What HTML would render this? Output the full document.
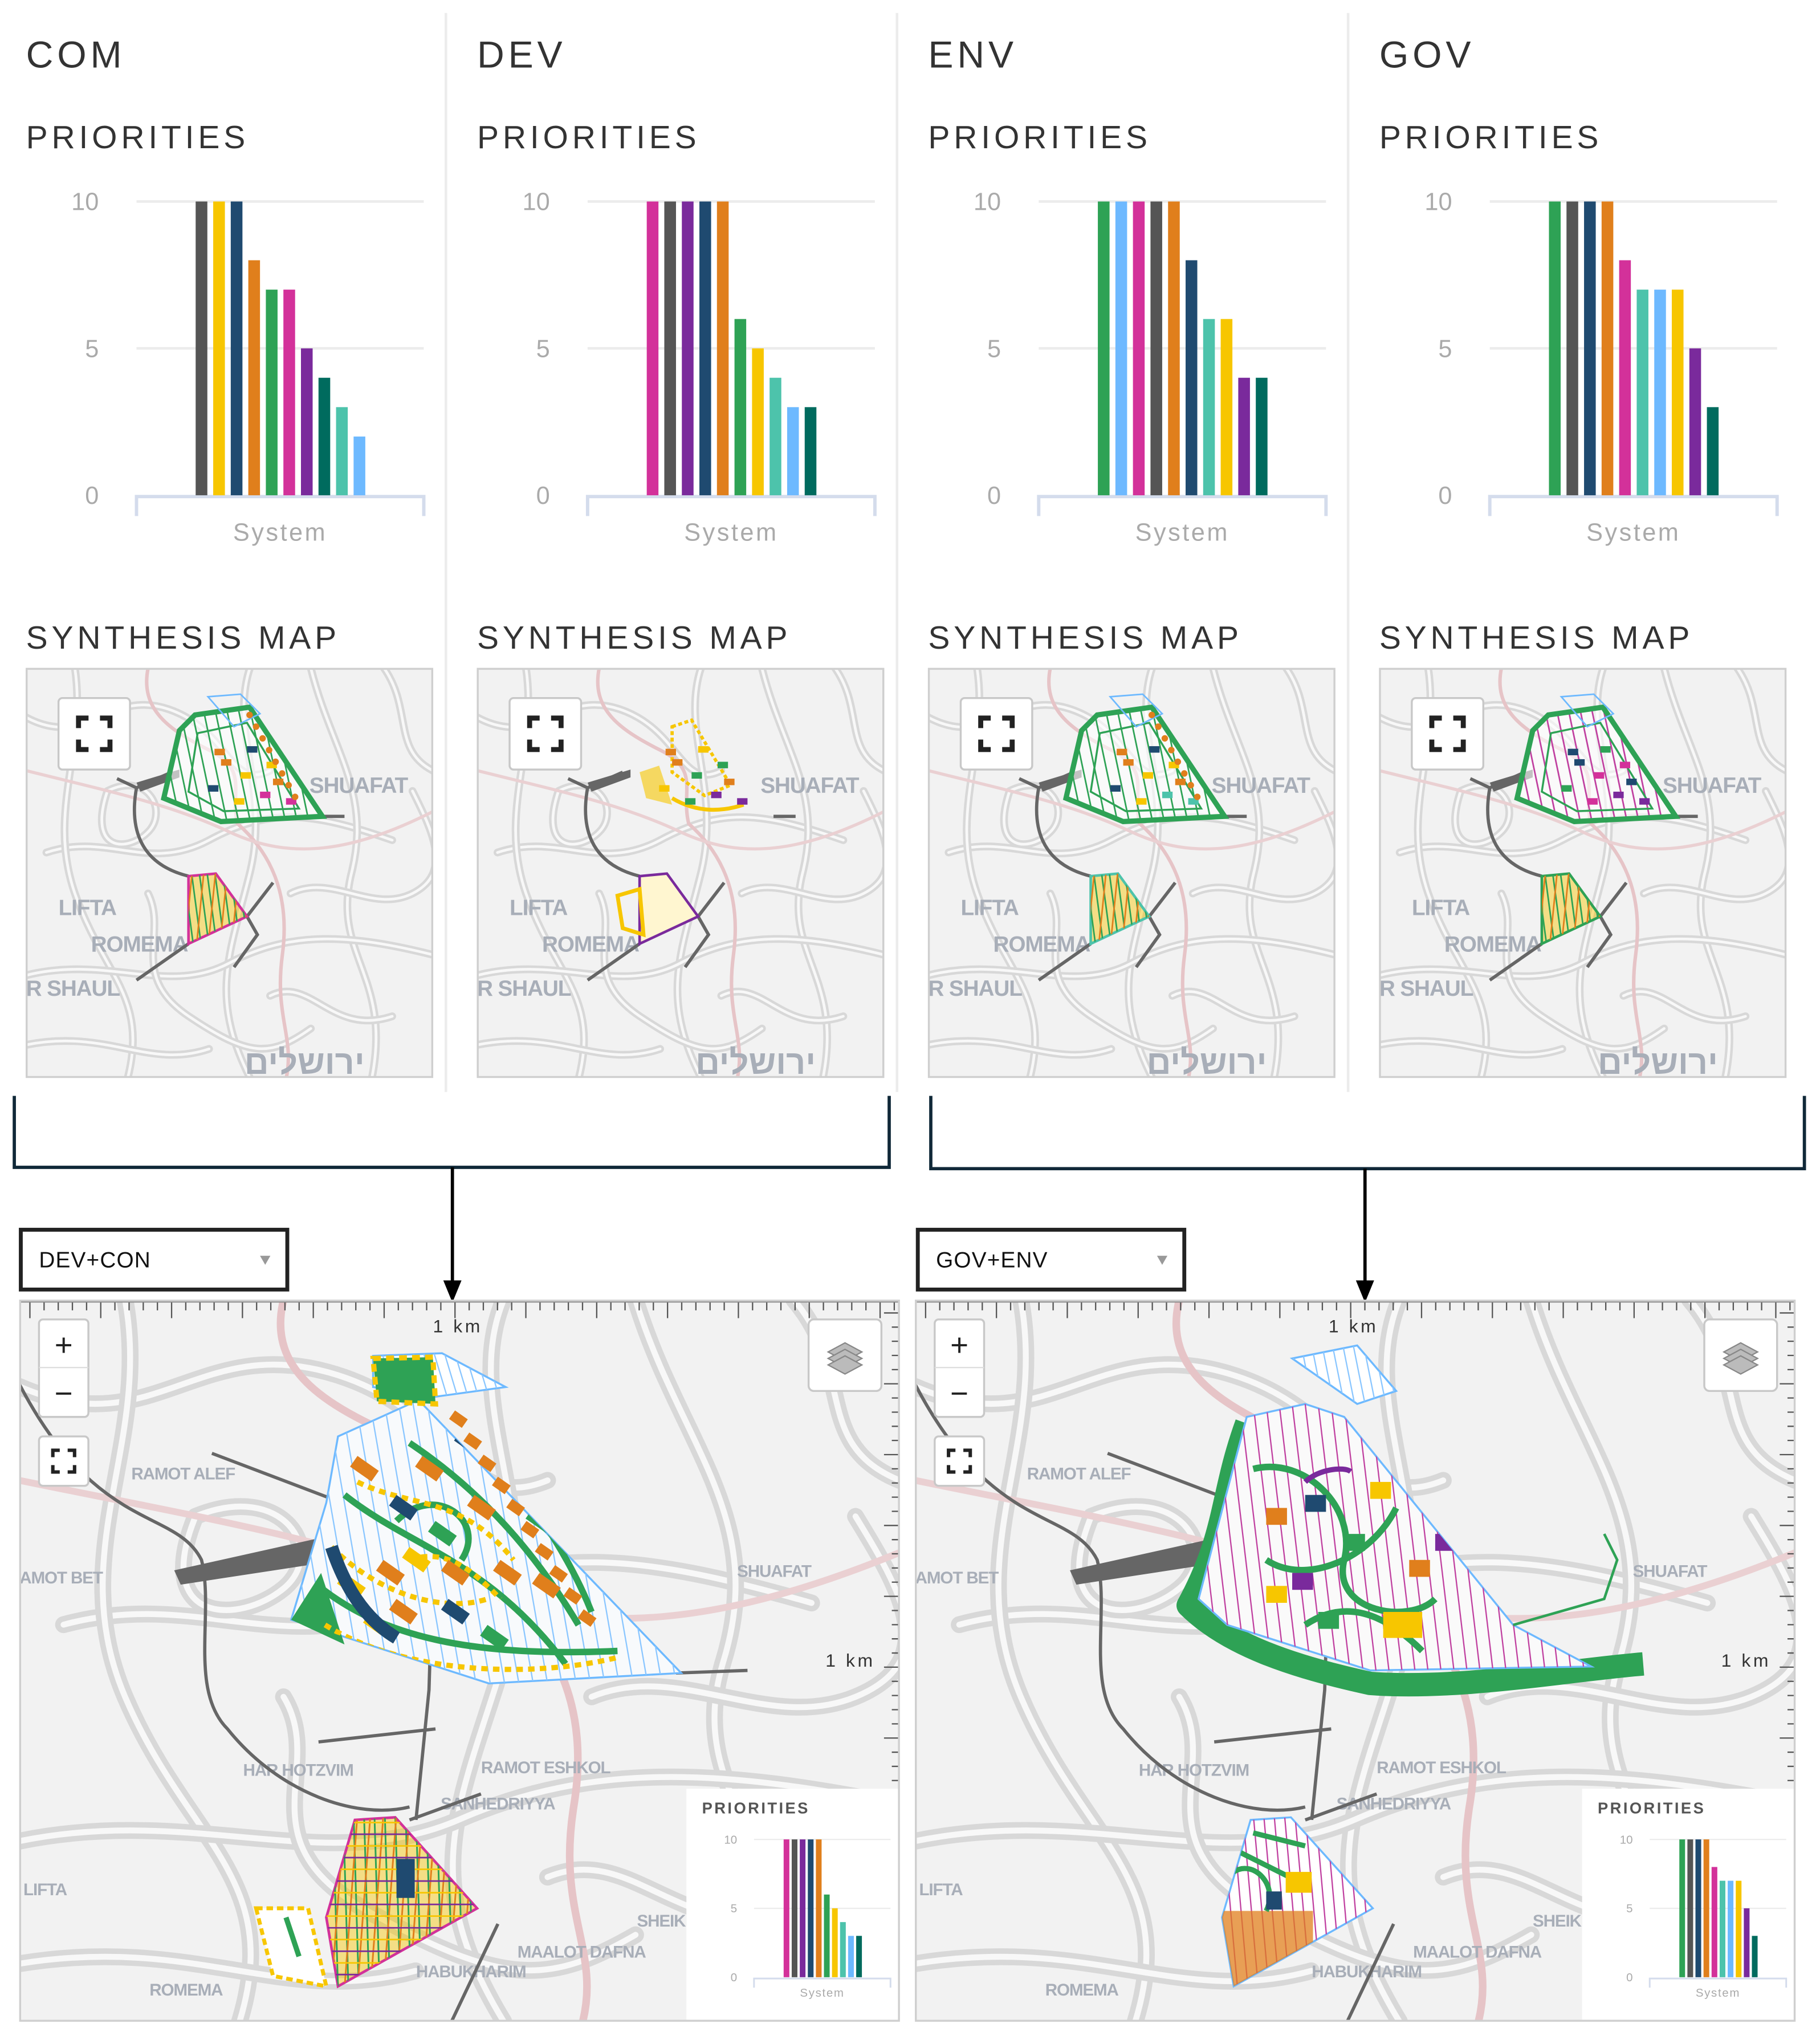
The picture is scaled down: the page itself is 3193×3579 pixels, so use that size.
<!DOCTYPE html>
<html><head><meta charset="utf-8">
<style>
html,body{margin:0;padding:0;background:#fff;}
svg{display:block;font-family:"Liberation Sans","DejaVu Sans","Noto Sans CJK JP",sans-serif;}
</style></head>
<body>
<svg id="root" xmlns="http://www.w3.org/2000/svg" width="3193" height="3579" viewBox="0 0 1400 1569.3" preserveAspectRatio="none">
<rect x="0" y="0" width="1400" height="1570" fill="#fff"/>
</svg>
<script>
// ---- chart data ----
var panelNames = ["COM","DEV","ENV","GOV"];
var comValues = [10,10,10,8,7,7,5,4,3,2];
var comColors = ["#555555","#f7c600","#1f4a70","#e07f1c","#2ea255","#d3319a","#7a2a9c","#006b5e","#4dc3ab","#6db9ff"];
var devValues = [10,10,10,10,10,6,5,4,3,3];
var devColors = ["#d3319a","#555555","#7a2a9c","#1f4a70","#e07f1c","#2ea255","#f7c600","#4dc3ab","#6db9ff","#006b5e"];
var envValues = [10,10,10,10,10,8,6,6,4,4];
var envColors = ["#2ea255","#6db9ff","#d3319a","#555555","#e07f1c","#1f4a70","#4dc3ab","#f7c600","#7a2a9c","#006b5e"];
var govValues = [10,10,10,10,8,7,7,7,5,3];
var govColors = ["#2ea255","#555555","#1f4a70","#e07f1c","#d3319a","#4dc3ab","#6db9ff","#f7c600","#7a2a9c","#006b5e"];
var tickValues = [0,5,10];
var tickLabels = ["0","5","10"];
var categoryLabel = "System";

var NS="http://www.w3.org/2000/svg";
var root=document.getElementById('root');
var uid=0;
function mk(tag,attrs,parent){var e=document.createElementNS(NS,tag);for(var k in attrs)e.setAttribute(k,attrs[k]);(parent||root).appendChild(e);return e;}
function txt(s,attrs,parent){var e=mk('text',attrs,parent);e.textContent=s;return e;}

function drawChart(parent,vals,cols,o){
  var y=function(v){return o.y0+(o.y10-o.y0)*v/10;};
  var g=mk('g',{},parent);
  
  
  for(var i=0;i<tickValues.length;i++){
    if(tickValues[i]>0){var gl=mk('line',{x1:o.gx0,x2:o.gx1,y1:y(tickValues[i]),y2:y(tickValues[i]),stroke:'#ececec','stroke-width':o.gw},g);
    
    }
    var t=txt(tickLabels[i],{x:o.lx,y:y(tickValues[i])+o.fs*0.35,'text-anchor':'end','font-size':o.fs,fill:'#aaa'},g);
    
    
  }
  var ax=mk('path',{d:'M'+o.gx0+' '+(o.y0+o.ad)+'V'+(o.y0+1)+'H'+o.gx1+'V'+(o.y0+o.ad),fill:'none',stroke:'#d4dcec','stroke-width':o.gw*1.3},g);
  
  
  for(var j=0;j<vals.length;j++){
    var cx=o.bx0+j*o.step;
    var r=mk('rect',{x:cx-o.bw/2,y:y(vals[j]),width:o.bw,height:o.y0-y(vals[j]),fill:cols[j]},g);
    
    
  }
  var c=txt(categoryLabel,{x:(o.gx0+o.gx1)/2,y:o.y0+o.cy,'text-anchor':'middle','font-size':o.fs,fill:'#aaa','letter-spacing':o.fs*0.08},g);
  
  
}

// ---- map drawing ----
var roadsN=[
 "M0.0 0.12 C0.15 0.2 0.2 0.05 0.35 0.1 S0.5 0.3 0.6 0.25",
 "M0.05 0.45 C0.2 0.4 0.3 0.5 0.45 0.42 S0.7 0.35 0.9 0.42",
 "M0.12 0.0 C0.15 0.2 0.05 0.35 0.12 0.55 S0.3 0.8 0.25 1.0",
 "M0.55 0.0 C0.5 0.15 0.6 0.3 0.55 0.5 S0.45 0.8 0.55 1.0",
 "M0.7 0.0 C0.75 0.2 0.85 0.3 0.8 0.5 S0.9 0.75 0.85 1.0",
 "M0.0 0.75 C0.2 0.7 0.35 0.8 0.5 0.72 S0.8 0.65 1.0 0.7",
 "M0.3 0.55 C0.35 0.65 0.25 0.75 0.4 0.85 S0.6 0.95 0.7 0.88",
 "M0.65 0.55 C0.75 0.5 0.85 0.6 0.95 0.55 S1.0 0.4 0.95 0.3",
 "M0.88 0.0 C0.95 0.1 0.9 0.2 1.0 0.25",
 "M0.2 0.3 C0.3 0.25 0.35 0.35 0.3 0.4 S0.15 0.45 0.2 0.3",
 "M0.0 0.92 C0.2 0.88 0.3 0.98 0.45 0.93",
 "M0.6 0.8 C0.7 0.75 0.75 0.9 0.9 0.85"
];
var pinkN="M0.3 0.0 C0.28 0.1 0.35 0.15 0.45 0.2 S0.5 0.3 0.52 0.38 C0.6 0.45 0.65 0.55 0.63 0.7 S0.66 0.9 0.64 1.0";
var pink2N="M0.0 0.25 C0.2 0.3 0.35 0.33 0.5 0.4 S0.8 0.45 1.0 0.35";
function scaleD(d,w,h){var i=0;return d.replace(/-?\d*\.?\d+/g,function(n){var v=parseFloat(n);var r=(i%2==0)?v*w:v*h;i++;return r.toFixed(1);});}

function mapBase(x,y,w,h,name,rw){
  var g=mk('g',{transform:'translate('+x+','+y+')'});
  
  
  var cid='clip'+name;
  var cp=mk('clipPath',{id:cid},g);mk('rect',{x:0,y:0,width:w,height:h},cp);
  var inner=mk('g',{'clip-path':'url(#'+cid+')'},g);
  mk('rect',{x:0,y:0,width:w,height:h,fill:'#f2f2f2'},inner);
  for(var i=0;i<roadsN.length;i++){
    mk('path',{d:scaleD(roadsN[i],w,h),fill:'none',stroke:'#d8d8d8','stroke-width':rw,'stroke-linecap':'round'},inner);
    mk('path',{d:scaleD(roadsN[i],w,h),fill:'none',stroke:'#f8f8f8','stroke-width':rw*0.35,'stroke-linecap':'round'},inner);
  }
  mk('path',{d:scaleD(pinkN,w,h),fill:'none',stroke:'#e6c4c7','stroke-width':rw*0.45},inner);
  mk('path',{d:scaleD(pink2N,w,h),fill:'none',stroke:'#ead0d2','stroke-width':rw*0.4},inner);
  mk('rect',{x:0.5,y:0.5,width:w-1,height:h-1,fill:'none',stroke:'#cfcfcf','stroke-width':1.5},g);
  return {g:g,inner:inner};
}
function label(p,s,x,y,fs,name){var t=txt(s,{x:x,y:y,'font-size':fs,fill:'#a8aeb8','font-weight':'bold','letter-spacing':-0.5},p);
  
  return t;}
function fsButton(p,x,y,s){
  var b=mk('g',{},p);
  
  
  mk('rect',{x:x,y:y,width:s,height:s,rx:3,fill:'#fff',stroke:'#c8c8c8','stroke-width':1.5},b);
  var a=s*0.28,b2=s*0.72,l=s*0.14;
  var d='M'+(x+a)+' '+(y+a+l)+'V'+(y+a)+'H'+(x+a+l)+'M'+(x+b2-l)+' '+(y+a)+'H'+(x+b2)+'V'+(y+a+l)+'M'+(x+b2)+' '+(y+b2-l)+'V'+(y+b2)+'H'+(x+b2-l)+'M'+(x+a+l)+' '+(y+b2)+'H'+(x+a)+'V'+(y+b2-l);
  mk('path',{d:d,fill:'none',stroke:'#222','stroke-width':s*0.07},b);
}
// clipped group helper
function clipped(p,points){
  var id='cp'+(uid++);
  var c=mk('clipPath',{id:id},p);mk('polygon',{points:points},c);
  return mk('g',{'clip-path':'url(#'+id+')'},p);
}
function hatch(g,x0,x1,y0,y1,step,skew,color,w){
  for(var x=x0;x<x1;x+=step)mk('line',{x1:x,y1:y0,x2:x+skew,y2:y1,stroke:color,'stroke-width':w},g);
}

function overlaySmall(p,type){
  function P(pts){return pts.map(function(q){return q[0]+','+q[1];}).join(' ');}
  var up=P([[118,48],[130,36],[172,30],[228,114],[150,118],[106,100]]);
  var lo=P([[125,160],[146,158],[170,191],[125,212]]);
  mk('path',{d:'M70 85L85 92L112 80M85 92C80 120 85 150 125 160M170 191L190 165M170 191L178 205L160 230M125 212L85 240M228 114L245 114',fill:'none',stroke:'#666','stroke-width':2.5}, p);
  mk('polygon',{points:P([[85,88],[118,78],[118,84],[88,95]]),fill:'#666'},p);
  if(type!=='DEV'){
    mk('polygon',{points:up,fill:'#fff','fill-opacity':0.6,stroke:'#6db9ff','stroke-width':1.5},p);
    var hg=clipped(p,up);
    hatch(hg,90,240,25,120,9,20,type==='GOV'?'#c040a0':'#2ea255',1.2);
    mk('polygon',{points:up,fill:'none',stroke:'#2ea255','stroke-width':4},p);
    mk('polygon',{points:P([[132,50],[170,42],[210,108],[152,110],[125,95]]),fill:'none',stroke:'#2ea255','stroke-width':1.5},p);
    mk('polygon',{points:P([[140,22],[165,20],[180,35],[160,45]]),fill:'none',stroke:'#6db9ff','stroke-width':1.2},p);
  } else {
    mk('polygon',{points:P([[150,45],[165,40],[195,90],[175,98],[150,80]]),fill:'none',stroke:'#f7c600','stroke-width':2.5,'stroke-dasharray':'3,2'},p);
    mk('polygon',{points:P([[125,80],[140,75],[150,105],[130,100]]),fill:'#f7c600','fill-opacity':0.6},p);
    mk('path',{d:'M150 100C170 112 190 110 205 105',fill:'none',stroke:'#f7c600','stroke-width':3},p);
  }
  var cols={COM:['#e07f1c','#f7c600','#1f4a70','#d3319a'],DEV:['#e07f1c','#2ea255','#f7c600','#7a2a9c'],ENV:['#e07f1c','#f7c600','#1f4a70','#4dc3ab'],GOV:['#1f4a70','#d3319a','#2ea255','#7a2a9c']}[type];
  var bits=[[150,70],[165,80],[140,90],[180,95],[190,85],[160,100],[170,60],[200,100],[145,62],[185,72]];
  for(var i=0;i<bits.length;i++)mk('rect',{x:bits[i][0],y:bits[i][1],width:8,height:5,fill:cols[i%4]},p);
  if(type==='COM'||type==='ENV'){for(var k=0;k<8;k++)mk('circle',{cx:172+k*5,cy:36+k*9,r:2.5,fill:'#e07f1c'},p);}
  var lcol={COM:'#d3319a',DEV:'#7a2a9c',ENV:'#4dc3ab',GOV:'#2ea255'}[type];
  if(type==='DEV'){
    mk('polygon',{points:lo,fill:'#fff6d0',stroke:'#7a2a9c','stroke-width':2},p);
    mk('polygon',{points:P([[108,175],[125,170],[128,205],[112,200]]),fill:'none',stroke:'#f7c600','stroke-width':3},p);
  } else {
    mk('polygon',{points:lo,fill:'#f7c600','fill-opacity':0.45,stroke:lcol,'stroke-width':2},p);
    var lg=clipped(p,lo);
    hatch(lg,115,175,155,215,6,8,'#2ea255',1.2);
    hatch(lg,110,175,155,215,9,-6,'#e07f1c',1.2);
  }
}

// ---- top panels ----
var pvals=[comValues,devValues,envValues,govValues];
var pcols=[comColors,devColors,envColors,govColors];
for(var i=0;i<4;i++){
  var dx=i*347;
  var pg=mk('g',{});
  
  
  if(i>0){mk('line',{x1:dx-4,x2:dx-4,y1:10,y2:840,stroke:'#ececec','stroke-width':2},pg);}
  var t1=txt(panelNames[i],{x:20+dx,y:52,'font-size':29,fill:'#333','letter-spacing':3},pg);
  
  
  var t2=txt('PRIORITIES',{x:20+dx,y:114,'font-size':25,fill:'#333','letter-spacing':3},pg);
  
  
  drawChart(pg,pvals[i],pcols[i],{y0:381,y10:155,gx0:105+dx,gx1:326+dx,lx:76+dx,fs:19,gw:2,ad:16,bx0:155+dx,step:13.5,bw:9,cy:35});
  var t3=txt('SYNTHESIS MAP',{x:20+dx,y:499,'font-size':25,fill:'#333','letter-spacing':3},pg);
  
  
  var m=mapBase(20+dx,514,313,315,'synthesis-map-'+panelNames[i].toLowerCase(),6);
  label(m.inner,'SHUAFAT',218,96,17,'label-shuafat');
  label(m.inner,'LIFTA',25,190,17,'label-lifta');
  label(m.inner,'ROMEMA',50,218,17,'label-romema');
  label(m.inner,'R SHAUL',0,252,17,'label-shaul');
  var hb=txt('ירושלים',{x:168,y:312,'font-size':26,fill:'#a8aeb8','font-weight':'bold'},m.inner);
  
  
  overlaySmall(m.inner,panelNames[i]);
  fsButton(m.inner,25,23,55);
}

// ---- connectors ----
var cn=mk('g',{});


mk('path',{d:'M11 843V898H684V843',fill:'none',stroke:'#102838','stroke-width':2.5},cn);
mk('path',{d:'M716 843V899H1388V843',fill:'none',stroke:'#102838','stroke-width':2.5},cn);
mk('line',{x1:348,x2:348,y1:898,y2:990,stroke:'#000','stroke-width':2.5},cn);
mk('polygon',{points:'341,985 355,985 348,1002',fill:'#000'},cn);
mk('line',{x1:1050,x2:1050,y1:899,y2:990,stroke:'#000','stroke-width':2.5},cn);
mk('polygon',{points:'1043,985 1057,985 1050,1002',fill:'#000'},cn);

// ---- dropdowns ----
function dropdown(x,lab){
  var g=mk('g',{});
  
  
  mk('rect',{x:x,y:946,width:205,height:46,fill:'#fff',stroke:'#222','stroke-width':3},g);
  txt(lab,{x:x+14,y:975,'font-size':17,fill:'#111','letter-spacing':0.5},g);
  mk('polygon',{points:(x+184)+',966 '+(x+192)+',966 '+(x+188)+',973',fill:'#999'},g);
}
dropdown(16,'DEV+CON');
dropdown(706,'GOV+ENV');

// ---- big maps ----
function bigMap(x,type,iv,ic){
  var w=677,h=555;
  var m=mapBase(x,1000,w,h,'combined-map-'+type,13);
  var p=m.inner;
  var rl=mk('g',{},p);
  for(var t=0;t<64;t++){var tx=8+t*10.9;mk('line',{x1:tx,x2:tx,y1:0,y2:(t%5==0)?14:8,stroke:'#555','stroke-width':1},rl);}
  for(var t2=0;t2<50;t2++){var ty=10+t2*10.9;mk('line',{x1:w,x2:w-((t2%5==0)?12:6),y1:ty,y2:ty,stroke:'#555','stroke-width':1},rl);}
  mk('line',{x1:0,x2:w,y1:1,y2:1,stroke:'#888','stroke-width':2},rl);
  txt('1 km',{x:318,y:25,'font-size':14,fill:'#333','letter-spacing':2},p);
  txt('1 km',{x:620,y:282,'font-size':14,fill:'#333','letter-spacing':2},p);
  label(p,'RAMOT ALEF',86,138,13,'label-ramot-alef');
  label(p,'AMOT BET',0,218,13,'label-ramot-bet');
  label(p,'SHUAFAT',552,213,13,'label-shuafat');
  label(p,'HAR HOTZVIM',172,366,13,'label-har-hotzvim');
  label(p,'RAMOT ESHKOL',355,364,13,'label-ramot-eshkol');
  label(p,'SANHEDRIYYA',324,392,13,'label-sanhedriyya');
  label(p,'LIFTA',3,458,13,'label-lifta');
  label(p,'MAALOT DAFNA',383,506,13,'label-maalot-dafna');
  label(p,'HABUKHARIM',305,521,13,'label-habukharim');
  label(p,'ROMEMA',100,535,13,'label-romema');
  label(p,'SHEIKH',475,482,13,'label-sheikh');
  mk('path',{d:'M148 118L285 170M0 65C60 180 120 160 140 200C150 240 130 300 160 330C200 380 260 400 300 390M318 200L315 300L305 400M320 330L230 340M505 287L560 285M368 480L330 560M300 400L355 380',fill:'none',stroke:'#666','stroke-width':2.5},p);
  mk('polygon',{points:'119,208 236,182 222,204 124,219',fill:'#666'},p);
  var mainP='245,105 307,77 509,287 361,295 209,246 236,156';
  var topP='272,43 325,41 374,67 316,75 272,67';
  var loP='258,400 289,398 352,468 245,528 236,475';
  if(type==='dev-con'){
    mk('polygon',{points:mainP,fill:'#f8fafc',stroke:'#6db9ff','stroke-width':1.5},p);
    var hg=clipped(p,mainP);
    hatch(hg,180,540,70,300,11,40,'#8ac6ff',1);
    mk('polygon',{points:topP,fill:'#fff',stroke:'#6db9ff','stroke-width':1.5},p);
    var tg=clipped(p,topP);hatch(tg,270,380,38,78,8,12,'#8ac6ff',1);
    mk('polygon',{points:'272,45 318,44 320,80 275,78',fill:'#2ea255',stroke:'#f7c600','stroke-width':4,'stroke-dasharray':'6,4'},p);
    mk('polygon',{points:'209,246 232,210 250,265',fill:'#2ea255'},p);
    var g2=clipped(p,mainP);
    mk('path',{d:'M300 110C360 150 400 200 430 250M230 220C280 260 350 275 460 270M290 170C320 140 360 170 340 200M250 150C300 190 360 200 420 280M330 90C380 130 420 190 440 240',fill:'none',stroke:'#2ea255','stroke-width':5},g2);
    mk('path',{d:'M260 140C300 160 340 150 380 200M240 190C280 230 330 240 360 230M300 200C330 190 350 210 370 230M235 250C300 290 400 290 460 275',fill:'none',stroke:'#f7c600','stroke-width':4,'stroke-dasharray':'5,4'},g2);
    var cols=['#e07f1c','#1f4a70','#2ea255','#f7c600','#e07f1c','#e07f1c'];
    var pts=[[260,120],[290,150],[320,170],[300,190],[350,150],[370,200],[280,200],[330,230],[360,250],[250,210],[400,210],[310,120],[380,130],[340,100],[395,160],[270,240],[330,200],[290,230]];
    for(var q=0;q<pts.length;q++)mk('rect',{x:pts[q][0],y:pts[q][1],width:20,height:10,fill:cols[q%6],transform:'rotate(35 '+pts[q][0]+' '+pts[q][1]+')'},g2);
    mk('path',{d:'M240 190C250 220 265 245 290 260',fill:'none',stroke:'#1f4a70','stroke-width':10},g2);
    for(var k2=0;k2<10;k2++)mk('rect',{x:335+k2*11,y:85+k2*17,width:12,height:8,fill:'#e07f1c',transform:'rotate(35 '+(335+k2*11)+' '+(85+k2*17)+')'},p);
    mk('polygon',{points:loP,fill:'#f7c600','fill-opacity':0.45,stroke:'#d3319a','stroke-width':2},p);
    var lg=clipped(p,loP);
    hatch(lg,225,360,395,530,8,4,'#2ea255',1.3);
    hatch(lg,220,360,395,530,10,-10,'#e07f1c',1.3);
    for(var k3=0;k3<14;k3++)mk('line',{x1:230,y1:402+k3*9,x2:360,y2:402+k3*9,stroke:k3%2?'#7a2a9c':'#f7c600','stroke-width':1.2},lg);
    mk('rect',{x:290,y:430,width:14,height:30,fill:'#1f4a70'},lg);
    mk('polygon',{points:'182,468 222,468 236,528 195,520',fill:'#fff',stroke:'#f7c600','stroke-width':3,'stroke-dasharray':'5,3'},p);
    mk('path',{d:'M205 475L215 505',stroke:'#2ea255','stroke-width':4},p);
  } else {
    mk('polygon',{points:'290,45 340,35 370,70 340,80',fill:'#fff',stroke:'#6db9ff','stroke-width':1.5},p);
    var tg2=clipped(p,'290,45 340,35 370,70 340,80');hatch(tg2,280,380,30,90,8,12,'#8ac6ff',1);
    mk('path',{d:'M255 95C235 150 240 180 210 235C240 265 290 282 350 295C420 300 500 285 560 280',fill:'none',stroke:'#2ea255','stroke-width':18,'stroke-linejoin':'round'},p);
    var gp='255,90 300,80 330,90 460,250 520,282 350,285 240,250 218,230';
    mk('polygon',{points:gp,fill:'#fafafa',stroke:'#6db9ff','stroke-width':1.5},p);
    var hg2=clipped(p,gp);
    hatch(hg2,200,540,80,290,10,25,'#c040a0',1);
    mk('path',{d:'M260 130C300 120 340 160 330 200C320 240 380 250 400 230M270 200C300 220 350 200 370 160M300 250C330 230 360 240 390 270',fill:'none',stroke:'#2ea255','stroke-width':5},hg2);
    var cols2=['#e07f1c','#1f4a70','#2ea255','#f7c600','#7a2a9c'];
    var pts2=[[270,160],[300,150],[330,180],[350,140],[290,210],[380,200],[360,240],[310,240],[270,220],[400,180]];
    for(var q2=0;q2<pts2.length;q2++)mk('rect',{x:pts2[q2][0],y:pts2[q2][1],width:16,height:13,fill:cols2[q2%5]},hg2);
    mk('rect',{x:360,y:240,width:30,height:20,fill:'#f7c600'},hg2);
    mk('path',{d:'M300 140C310 130 330 128 335 132',fill:'none',stroke:'#7a2a9c','stroke-width':4},p);
    mk('path',{d:'M460 250L530 230L540 200L530 180',fill:'none',stroke:'#2ea255','stroke-width':2},p);
    mk('polygon',{points:loP,fill:'#fff',stroke:'#6db9ff','stroke-width':1.5},p);
    var lg2=clipped(p,loP);
    hatch(lg2,220,360,395,530,8,12,'#c040a0',1);
    mk('rect',{x:236,y:470,width:70,height:60,fill:'#e07f1c','fill-opacity':0.75},lg2);
    mk('path',{d:'M240 420L290 445M245 440C260 430 280 450 270 470M260 410L300 420',fill:'none',stroke:'#2ea255','stroke-width':4},lg2);
    mk('rect',{x:285,y:440,width:20,height:16,fill:'#f7c600'},lg2);
    mk('rect',{x:270,y:455,width:12,height:14,fill:'#1f4a70'},lg2);
  }
  var zc=mk('g',{},p);
  
  
  mk('rect',{x:15,y:15,width:38,height:75,rx:3,fill:'#fff',stroke:'#c8c8c8','stroke-width':1.5},zc);
  mk('line',{x1:15,x2:53,y1:52,y2:52,stroke:'#ddd','stroke-width':1},zc);
  var zi=txt('+',{x:34,y:43,'text-anchor':'middle','font-size':24,fill:'#222'},zc);
  
  
  var zo=txt('−',{x:34,y:80,'text-anchor':'middle','font-size':24,fill:'#222'},zc);
  
  
  fsButton(p,15,105,38);
  var lb=mk('g',{},p);
  
  
  mk('rect',{x:607,y:15,width:56,height:55,rx:4,fill:'#fff',stroke:'#c8c8c8','stroke-width':1.5},lb);
  for(var s=0;s<3;s++)mk('polygon',{points:'622,'+(40+s*5)+' 635,'+(33+s*5)+' 648,'+(40+s*5)+' 635,'+(47+s*5),fill:'#bbb',stroke:'#888','stroke-width':1},lb);
  var ins=mk('g',{},p);
  
  
  mk('rect',{x:513,y:376,width:164,height:179,fill:'#fff'},ins);
  var it=txt('PRIORITIES',{x:525,y:395,'font-size':12,fill:'#555','font-weight':'bold','letter-spacing':1.5},ins);
  
  
  drawChart(ins,iv,ic,{y0:521,y10:415,gx0:565,gx1:670,lx:552,fs:9,gw:1,ad:8,bx0:590,step:6.2,bw:4.4,cy:15});
}
bigMap(15,'dev-con',devValues,devColors);
bigMap(704,'gov-env',govValues,govColors);
</script>
</body></html>
